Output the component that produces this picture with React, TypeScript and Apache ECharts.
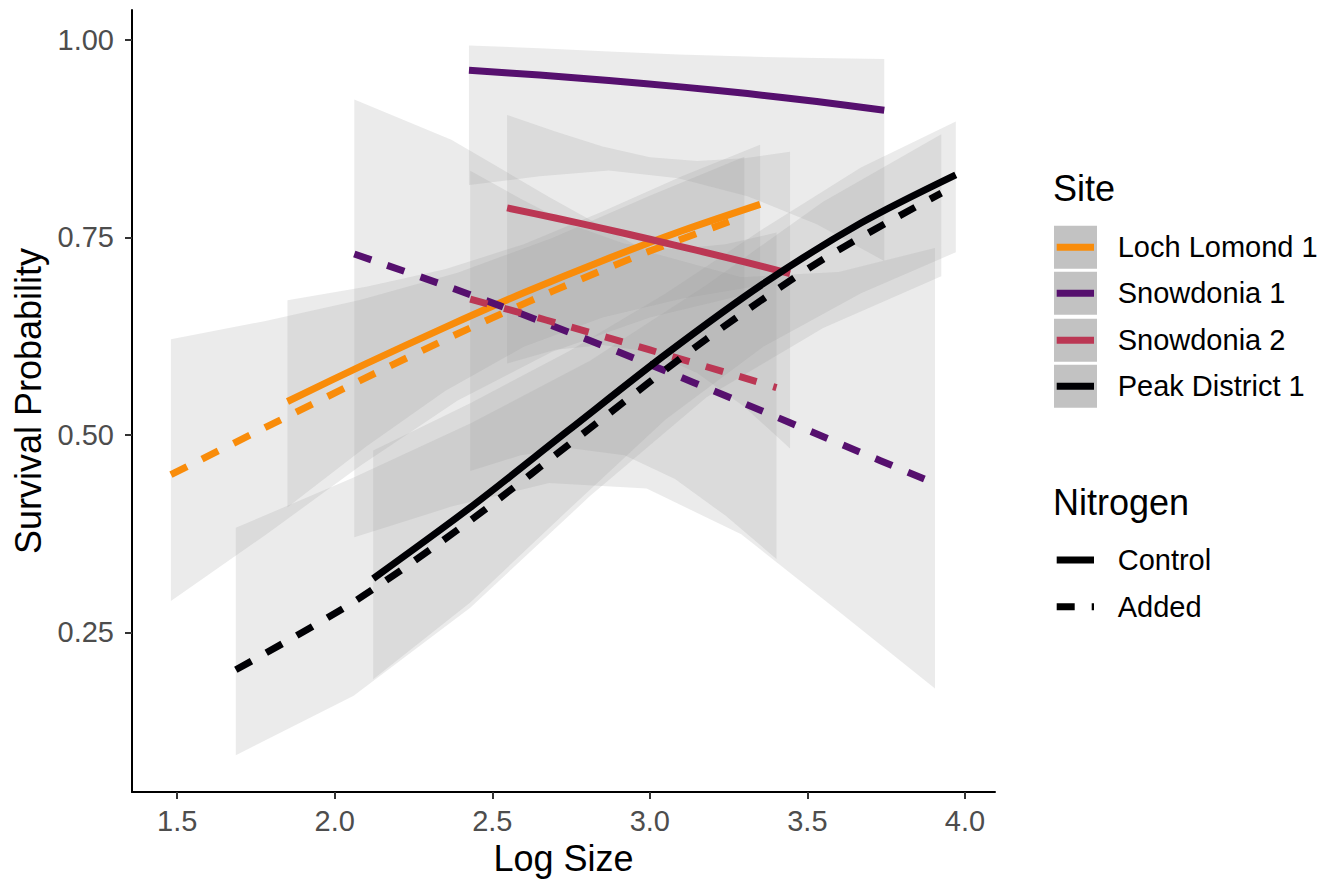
import React, { useEffect, useRef } from "react";
import * as echarts from "echarts";

// ---------- data ----------
const sites = ["Loch Lomond 1", "Snowdonia 1", "Snowdonia 2", "Peak District 1"];
const siteColors = ["#F98C0A", "#56106E", "#BB3754", "#000004"];
const nitrogenLevels = ["Control", "Added"];
const xTicks = [1.5, 2.0, 2.5, 3.0, 3.5, 4.0];
const yTicks = [0.25, 0.5, 0.75, 1.0];

// Loch Lomond 1
const llControlX = [1.85, 2.1, 2.35, 2.6, 2.85, 3.1, 3.35];
const llControlFit = [0.5424, 0.5903, 0.6362, 0.68, 0.7207, 0.7582, 0.792];
const llControlLo = [0.4085, 0.4853, 0.5558, 0.6116, 0.6487, 0.6724, 0.6893];
const llControlHi = [0.6704, 0.6876, 0.7097, 0.7415, 0.783, 0.8273, 0.8673];

const llAddedX = [1.48, 1.78, 2.08, 2.39, 2.69, 3.0, 3.3];
const llAddedFit = [0.4499, 0.5095, 0.5688, 0.6281, 0.6818, 0.7328, 0.7769];
const llAddedLo = [0.2899, 0.3733, 0.4606, 0.5436, 0.6054, 0.6487, 0.6776];
const llAddedHi = [0.6211, 0.6443, 0.6708, 0.7054, 0.7495, 0.803, 0.8523];

// Snowdonia 1
const s1ControlX = [2.426, 2.65, 2.87, 3.09, 3.31, 3.53, 3.744];
const s1ControlFit = [0.9616, 0.9556, 0.9488, 0.941, 0.9322, 0.9221, 0.911];
const s1ControlLo = [0.8163, 0.8276, 0.8348, 0.8249, 0.8023, 0.7669, 0.7203];
const s1ControlHi = [0.993, 0.9897, 0.9855, 0.9818, 0.979, 0.9771, 0.976];

const s1AddedX = [2.062, 2.37, 2.68, 2.99, 3.29, 3.6, 3.905];
const s1AddedFit = [0.7291, 0.6863, 0.6399, 0.5907, 0.5414, 0.4895, 0.4386];
const s1AddedLo = [0.3705, 0.4093, 0.4391, 0.4322, 0.3743, 0.2765, 0.179];
const s1AddedHi = [0.9248, 0.8736, 0.8014, 0.7325, 0.6998, 0.7064, 0.7367];

// Snowdonia 2
const s2ControlX = [2.547, 2.7, 2.85, 3.0, 3.15, 3.3, 3.445];
const s2ControlFit = [0.7875, 0.7747, 0.7615, 0.7478, 0.7336, 0.7191, 0.7043];
const s2ControlLo = [0.5905, 0.6078, 0.614, 0.6052, 0.5783, 0.5357, 0.483];
const s2ControlHi = [0.905, 0.8841, 0.8651, 0.8516, 0.8468, 0.8503, 0.8587];

const s2AddedX = [2.43, 2.59, 2.75, 2.92, 3.08, 3.24, 3.402];
const s2AddedFit = [0.672, 0.6545, 0.6365, 0.617, 0.5982, 0.5793, 0.56];
const s2AddedLo = [0.4544, 0.4743, 0.4833, 0.4743, 0.4442, 0.3979, 0.343];
const s2AddedHi = [0.8344, 0.7991, 0.7662, 0.7421, 0.735, 0.7415, 0.7562];

// Peak District 1
const pdControlX = [2.122, 2.43, 2.74, 3.05, 3.36, 3.67, 3.971];
const pdControlFit = [0.3182, 0.4081, 0.5052, 0.602, 0.6915, 0.7683, 0.8293];
const pdControlLo = [0.1908, 0.288, 0.4047, 0.5197, 0.6118, 0.6794, 0.7313];
const pdControlHi = [0.4803, 0.5402, 0.6054, 0.679, 0.7611, 0.8385, 0.8967];

const pdAddedX = [1.686, 2.06, 2.43, 2.81, 3.18, 3.55, 3.925];
const pdAddedFit = [0.2028, 0.2886, 0.3917, 0.5085, 0.6215, 0.7225, 0.8061];
const pdAddedLo = [0.0946, 0.1698, 0.2813, 0.4226, 0.5479, 0.6355, 0.701];
const pdAddedHi = [0.3825, 0.446, 0.5145, 0.5938, 0.69, 0.7954, 0.8806];

// ---------- build ----------
type Group = { site: number; nitro: number; x: number[]; fit: number[]; lo: number[]; hi: number[] };
const groups: Group[] = [
  { site: 0, nitro: 0, x: llControlX, fit: llControlFit, lo: llControlLo, hi: llControlHi },
  { site: 0, nitro: 1, x: llAddedX, fit: llAddedFit, lo: llAddedLo, hi: llAddedHi },
  { site: 1, nitro: 0, x: s1ControlX, fit: s1ControlFit, lo: s1ControlLo, hi: s1ControlHi },
  { site: 1, nitro: 1, x: s1AddedX, fit: s1AddedFit, lo: s1AddedLo, hi: s1AddedHi },
  { site: 2, nitro: 0, x: s2ControlX, fit: s2ControlFit, lo: s2ControlLo, hi: s2ControlHi },
  { site: 2, nitro: 1, x: s2AddedX, fit: s2AddedFit, lo: s2AddedLo, hi: s2AddedHi },
  { site: 3, nitro: 0, x: pdControlX, fit: pdControlFit, lo: pdControlLo, hi: pdControlHi },
  { site: 3, nitro: 1, x: pdAddedX, fit: pdAddedFit, lo: pdAddedLo, hi: pdAddedHi },
];

const FONT = "'Liberation Sans', Arial, Helvetica, sans-serif";
const LINE_W = 7;
const DASH = [18, 17];
const RIBBON_FILL = "rgba(153,153,153,0.2)";

const ribbonSeries = groups.map((g, gi) => ({
  type: "custom",
  name: `ribbon-${gi}`,
  coordinateSystem: "cartesian2d",
  silent: true,
  z: 1,
  clip: true,
  data: g.x.map((x, i) => [x, g.lo[i], g.hi[i]]),
  encode: { x: 0, y: [1, 2] },
  renderItem: (params: any, api: any) => {
    if (params.dataIndex !== 0) return null;
    const pts: number[][] = [];
    for (let i = 0; i < g.x.length; i++) pts.push(api.coord([g.x[i], g.hi[i]]));
    for (let i = g.x.length - 1; i >= 0; i--) pts.push(api.coord([g.x[i], g.lo[i]]));
    return {
      type: "polygon",
      shape: { points: pts },
      style: { fill: RIBBON_FILL, stroke: "none" },
    };
  },
}));

const lineSeries = groups.map((g) => ({
  type: "line",
  name: `${sites[g.site]} ${nitrogenLevels[g.nitro]}`,
  data: g.x.map((x, i) => [x, g.fit[i]]),
  showSymbol: false,
  smooth: 0.3,
  silent: true,
  z: 3,
  lineStyle: {
    color: siteColors[g.site],
    width: LINE_W,
    type: g.nitro === 0 ? "solid" : DASH,
    cap: "butt",
  },
}));

// legend graphics
const legendGraphics: any[] = [];
legendGraphics.push({
  type: "text",
  x: 1053,
  y: 188,
  style: { text: "Site", font: `36px ${FONT}`, fill: "#000", align: "left", verticalAlign: "middle" },
});
const siteRowY = [247.3, 293.3, 340.3, 386.3];
sites.forEach((s, i) => {
  const cy = siteRowY[i];
  legendGraphics.push({
    type: "rect",
    shape: { x: 1054, y: cy - 21.5, width: 43, height: 43 },
    style: { fill: "#C2C2C2" },
  });
  legendGraphics.push({
    type: "line",
    shape: { x1: 1056.7, y1: cy, x2: 1094, y2: cy },
    style: { stroke: siteColors[i], lineWidth: LINE_W, lineCap: "butt" },
  });
  legendGraphics.push({
    type: "text",
    x: 1117.7,
    y: cy,
    style: { text: s, font: `29px ${FONT}`, fill: "#000", align: "left", verticalAlign: "middle" },
  });
});
legendGraphics.push({
  type: "text",
  x: 1053,
  y: 502,
  style: { text: "Nitrogen", font: `36px ${FONT}`, fill: "#000", align: "left", verticalAlign: "middle" },
});
const nitroRowY = [560, 606.7];
nitrogenLevels.forEach((n, i) => {
  const cy = nitroRowY[i];
  legendGraphics.push({
    type: "line",
    shape: { x1: 1056.7, y1: cy, x2: 1094, y2: cy },
    style: {
      stroke: "#000",
      lineWidth: LINE_W,
      lineCap: "butt",
      lineDash: i === 0 ? null : DASH,
    },
  });
  legendGraphics.push({
    type: "text",
    x: 1117.7,
    y: cy,
    style: { text: n, font: `29px ${FONT}`, fill: "#000", align: "left", verticalAlign: "middle" },
  });
});

const option: any = {
  animation: false,
  backgroundColor: "#ffffff",
  textStyle: { fontFamily: FONT },
  grid: { left: 132, right: 336, top: 10, bottom: 91, containLabel: false, outerBoundsMode: "none" },
  xAxis: {
    type: "value",
    min: 1.3565,
    max: 4.0955,
    name: "Log Size",
    nameLocation: "middle",
    nameGap: 48,
    nameTextStyle: { fontSize: 36, color: "#000", fontFamily: FONT },
    splitLine: { show: false },
    axisLine: { show: true, onZero: false, lineStyle: { color: "#000", width: 2 } },
    axisTick: { show: true, customValues: xTicks, length: 7, lineStyle: { color: "#333333", width: 2 } },
    axisLabel: {
      customValues: xTicks,
      formatter: (v: number) => v.toFixed(1),
      color: "#4D4D4D",
      fontSize: 29,
      fontFamily: FONT,
      margin: 14,
    },
  },
  yAxis: {
    type: "value",
    min: 0.048,
    max: 1.038,
    name: "Survival Probability",
    nameLocation: "middle",
    nameGap: 82,
    nameTextStyle: { fontSize: 36, color: "#000", fontFamily: FONT },
    splitLine: { show: false },
    axisLine: { show: true, onZero: false, lineStyle: { color: "#000", width: 2 } },
    axisTick: { show: true, customValues: yTicks, length: 7, lineStyle: { color: "#333333", width: 2 } },
    axisLabel: {
      customValues: yTicks,
      formatter: (v: number) => v.toFixed(2),
      color: "#4D4D4D",
      fontSize: 29,
      fontFamily: FONT,
      margin: 18,
    },
  },
  graphic: legendGraphics,
  series: [...ribbonSeries, ...lineSeries],
};

export default function App() {
  const ref = useRef<HTMLDivElement>(null);
  useEffect(() => {
    if (!ref.current) return;
    const chart = echarts.init(ref.current, null, { renderer: "svg" });
    chart.setOption(option);
    return () => {
      chart.dispose();
    };
  }, []);
  return (
    <div
      ref={ref}
      style={{ position: "fixed", left: 0, top: 0, width: 1331, height: 883, background: "#fff" }}
    />
  );
}
